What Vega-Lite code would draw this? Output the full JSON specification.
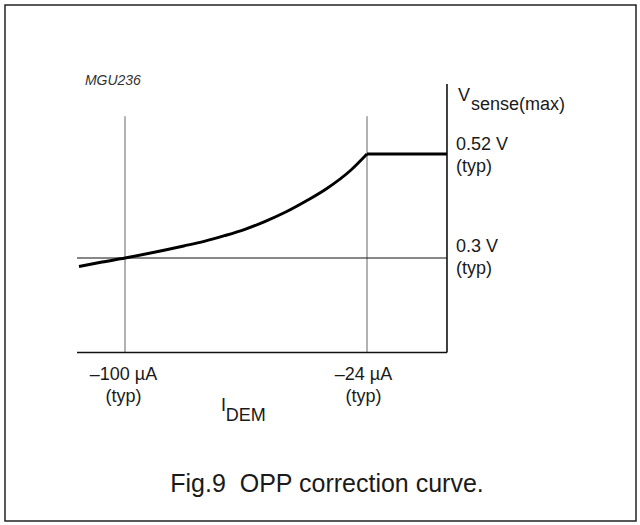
{
  "$schema": "https://vega.github.io/schema/vega-lite/v6.json",
  "width": 631,
  "height": 516,
  "autosize": "none",
  "padding": {"left": 5, "top": 5, "right": 4, "bottom": 4},
  "background": "white",
  "config": {
    "view": {"stroke": "#222", "strokeWidth": 1.5},
    "font": "Liberation Sans",
    "text": {"font": "Liberation Sans", "fill": "#1a1a1a"}
  },
  "datasets": {
    "curve": [
      {"i": -114.45, "v": 0.282, "seg": "a"},
      {"i": -107.2, "v": 0.2915, "seg": "a"},
      {"i": -100, "v": 0.3, "seg": "a"},
      {"i": -81.57, "v": 0.3254, "seg": "a"},
      {"i": -75.16, "v": 0.3352, "seg": "a"},
      {"i": -68.76, "v": 0.3472, "seg": "a"},
      {"i": -62.35, "v": 0.3607, "seg": "a"},
      {"i": -55.94, "v": 0.3776, "seg": "a"},
      {"i": -49.53, "v": 0.3973, "seg": "a"},
      {"i": -43.13, "v": 0.4206, "seg": "a"},
      {"i": -36.72, "v": 0.4466, "seg": "a"},
      {"i": -29.02, "v": 0.4862, "seg": "a"},
      {"i": -24, "v": 0.52, "seg": "a"},
      {"i": -24, "v": 0.52, "seg": "b"},
      {"i": 1.12, "v": 0.52, "seg": "b"}
    ],
    "axes": [
      {"x": -115.07, "x2": 1.12, "y": 0.1, "y2": 0.1},
      {"x": 1.12, "x2": 1.12, "y": 0.1, "y2": 0.668}
    ],
    "grid": [
      {"x": -100, "x2": -100, "y": 0.1, "y2": 0.6},
      {"x": -24, "x2": -24, "y": 0.1, "y2": 0.6}
    ],
    "ref": [
      {"x": -115.07, "x2": 1.12, "y": 0.3, "y2": 0.3}
    ],
    "leftText": [
      {"x": 4.58, "y": 0.632, "t": "V"},
      {"x": 8.66, "y": 0.613, "t": "sense(max)"},
      {"x": 3.95, "y": 0.5295, "t": "0.52 V"},
      {"x": 3.95, "y": 0.4809, "t": "(typ)"},
      {"x": 3.95, "y": 0.3133, "t": "0.3 V"},
      {"x": 3.95, "y": 0.2662, "t": "(typ)"},
      {"x": -69.85, "y": -0.0237, "t": "I"},
      {"x": -68.4, "y": -0.0448, "t": "DEM"}
    ],
    "centerText": [
      {"x": -100.5, "y": 0.0419, "t": "–100 µA"},
      {"x": -100.5, "y": -0.0036, "t": "(typ)"},
      {"x": -25.1, "y": 0.0419, "t": "–24 µA"},
      {"x": -25.1, "y": -0.0036, "t": "(typ)"}
    ],
    "tag": [{"x": -112.6, "y": 0.666, "t": "MGU236"}],
    "caption": [{"x": -36.56, "y": -0.195, "t": "Fig.9\u00a0 OPP correction curve."}]
  },
  "layer": [
    {
      "data": {"name": "grid"},
      "mark": {"type": "rule", "stroke": "#666", "strokeWidth": 1},
      "encoding": {
        "x": {"field": "x", "type": "quantitative", "scale": {"domain": [-137.69, 60.48], "nice": false, "zero": false}, "axis": null},
        "x2": {"field": "x2"},
        "y": {"field": "y", "type": "quantitative", "scale": {"domain": [-0.2563, 0.8352], "nice": false, "zero": false}, "axis": null},
        "y2": {"field": "y2"}
      }
    },
    {
      "data": {"name": "ref"},
      "mark": {"type": "rule", "stroke": "#111", "strokeWidth": 1},
      "encoding": {
        "x": {"field": "x", "type": "quantitative"},
        "x2": {"field": "x2"},
        "y": {"field": "y", "type": "quantitative"},
        "y2": {"field": "y2"}
      }
    },
    {
      "data": {"name": "axes"},
      "mark": {"type": "rule", "stroke": "#111", "strokeWidth": 1.6},
      "encoding": {
        "x": {"field": "x", "type": "quantitative"},
        "x2": {"field": "x2"},
        "y": {"field": "y", "type": "quantitative"},
        "y2": {"field": "y2"}
      }
    },
    {
      "data": {"name": "curve"},
      "mark": {"type": "line", "stroke": "#000", "strokeWidth": 2.9, "interpolate": "monotone", "strokeJoin": "miter"},
      "encoding": {
        "x": {"field": "i", "type": "quantitative"},
        "y": {"field": "v", "type": "quantitative"},
        "detail": {"field": "seg"}
      }
    },
    {
      "data": {"name": "leftText"},
      "mark": {"type": "text", "align": "left", "baseline": "alphabetic", "fontSize": 18},
      "encoding": {
        "x": {"field": "x", "type": "quantitative"},
        "y": {"field": "y", "type": "quantitative"},
        "text": {"field": "t"}
      }
    },
    {
      "data": {"name": "centerText"},
      "mark": {"type": "text", "align": "center", "baseline": "alphabetic", "fontSize": 18},
      "encoding": {
        "x": {"field": "x", "type": "quantitative"},
        "y": {"field": "y", "type": "quantitative"},
        "text": {"field": "t"}
      }
    },
    {
      "data": {"name": "tag"},
      "mark": {"type": "text", "align": "left", "baseline": "alphabetic", "fontSize": 14, "fontStyle": "italic", "fill": "#333"},
      "encoding": {
        "x": {"field": "x", "type": "quantitative"},
        "y": {"field": "y", "type": "quantitative"},
        "text": {"field": "t"}
      }
    },
    {
      "data": {"name": "caption"},
      "mark": {"type": "text", "align": "center", "baseline": "alphabetic", "fontSize": 25},
      "encoding": {
        "x": {"field": "x", "type": "quantitative"},
        "y": {"field": "y", "type": "quantitative"},
        "text": {"field": "t"}
      }
    }
  ]
}
